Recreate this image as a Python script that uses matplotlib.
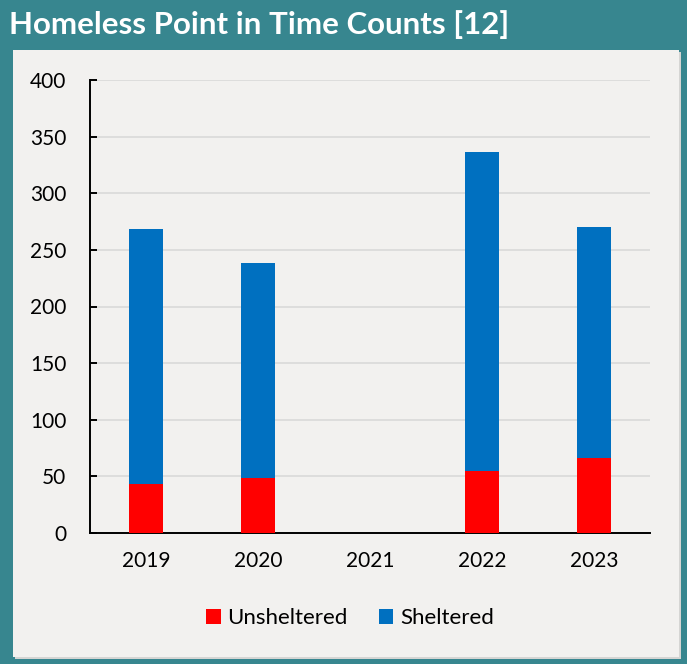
import matplotlib.pyplot as plt
from matplotlib.patches import Rectangle

# Point in Time counts by year (2021 count not held)
years = ["2019", "2020", "2021", "2022", "2023"]
unsheltered = [43, 49, 0, 55, 66]
sheltered = [225, 189, 0, 281, 204]

teal = "#37868F"
panel = "#F2F1EF"
red = "#FF0000"
blue = "#0070C0"

plt.rcParams["font.family"] = ["Lato", "DejaVu Sans"]

fig = plt.figure(figsize=(6.87, 6.64), dpi=100)
fig.patch.set_facecolor(teal)

# light inner panel with a faint shadow edge
fig.add_artist(Rectangle((15 / 687, 5 / 664), 666 / 687, 607 / 664,
                         transform=fig.transFigure, facecolor="#D5D5D3",
                         edgecolor="none", zorder=0))
fig.add_artist(Rectangle((13 / 687, 7 / 664), 666 / 687, 607 / 664,
                         transform=fig.transFigure, facecolor=panel,
                         edgecolor="none", zorder=0))

fig.text(9 / 687, 1 - 25 / 664, "Homeless Point in Time Counts [12]",
         color="white", fontsize=22.5, fontweight="bold", va="center", ha="left")

ax = fig.add_axes([90 / 687, 131 / 664, 560 / 687, 453 / 664])
ax.set_facecolor(panel)

x = range(len(years))
w = 0.31
ax.bar(x, unsheltered, width=w, color=red, label="Unsheltered", zorder=3)
ax.bar(x, sheltered, width=w, bottom=unsheltered, color=blue,
       label="Sheltered", zorder=3)

ax.set_xlim(-0.5, len(years) - 0.5)
ax.set_ylim(0, 400)
ax.set_yticks(range(0, 401, 50))
ax.set_xticks(list(x))
ax.set_xticklabels(years)

ax.grid(axis="y", color="#D9D9D9", linewidth=1.2, zorder=0)
ax.set_axisbelow(True)
for s in ["top", "right"]:
    ax.spines[s].set_visible(False)
for s in ["left", "bottom"]:
    ax.spines[s].set_color("black")
    ax.spines[s].set_linewidth(1.4)

ax.tick_params(axis="y", direction="in", length=5, width=1.4, pad=17,
               labelsize=15, colors="black")
ax.tick_params(axis="x", length=0, pad=13, labelsize=15)

fig.legend(loc="center", bbox_to_anchor=(350 / 687, 1 - 618 / 664),
           ncol=2, frameon=False, fontsize=16, handlelength=0.65,
           handleheight=0.65, handletextpad=0.3, columnspacing=1.4)

fig.savefig("out.png", dpi=100, facecolor=teal)
